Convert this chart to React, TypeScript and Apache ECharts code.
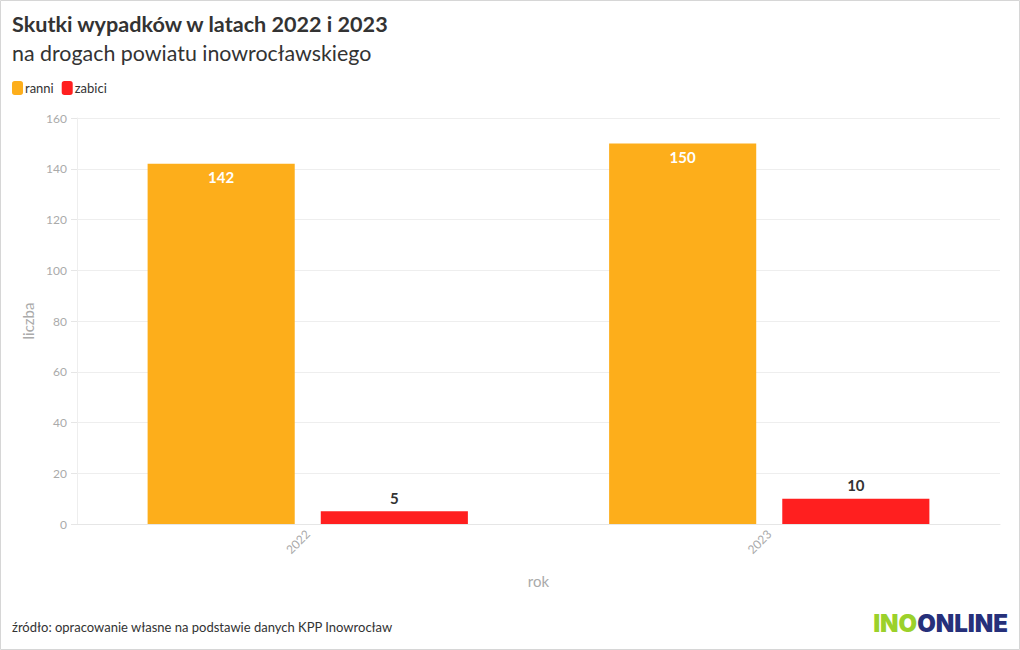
import React, { useEffect, useRef } from "react";
import * as echarts from "echarts";

const categories = ["2022", "2023"];
const ranni = [142, 150];
const zabici = [5, 10];
const yTicks = { min: 0, max: 160, interval: 20 };

const FONT = "Lato, 'Noto Sans', sans-serif";

export default function App() {
  const ref = useRef<HTMLDivElement>(null);
  useEffect(() => {
    if (!ref.current) return;
    const chart = echarts.init(ref.current, undefined, { renderer: "svg" });
    chart.setOption({
      animation: false,
      backgroundColor: "#ffffff",
      textStyle: { fontFamily: FONT },
      title: [
        {
          text: "Skutki wypadków w latach 2022 i 2023",
          left: 7,
          top: 8,
          textStyle: { fontSize: 21.6, fontWeight: "bold", color: "#333333", fontFamily: FONT },
        },
        {
          text: "na drogach powiatu inowrocławskiego",
          left: 7,
          top: 37,
          textStyle: { fontSize: 21.4, fontWeight: "normal", color: "#333333", fontFamily: FONT },
        },
        {
          text: "źródło: opracowanie własne na podstawie danych KPP Inowrocław",
          left: 7,
          top: 615,
          textStyle: { fontSize: 13, fontWeight: "normal", color: "#333333", fontFamily: FONT },
        },
      ],
      legend: {
        left: 7,
        top: 76,
        icon: "roundRect",
        itemWidth: 11,
        itemHeight: 14,
        itemGap: 8,
        textStyle: { fontSize: 13, color: "#333333", padding: [0, 0, 0, -3], fontFamily: FONT },
        data: ["ranni", "zabici"],
      },
      grid: { left: 77, right: 20, top: 118, bottom: 126 },
      xAxis: {
        type: "category",
        data: categories,
        name: "rok",
        nameLocation: "middle",
        nameGap: 49,
        nameTextStyle: { color: "#aaaaaa", fontSize: 15, fontFamily: FONT },
        axisLine: { lineStyle: { color: "#e6e6e6" } },
        axisTick: { alignWithLabel: true, length: 6, lineStyle: { color: "#e6e6e6" } },
        axisLabel: { rotate: 45, color: "#aaaaaa", fontSize: 12, margin: 8, fontFamily: FONT },
      },
      yAxis: {
        type: "value",
        min: yTicks.min,
        max: yTicks.max,
        interval: yTicks.interval,
        name: "liczba",
        nameLocation: "middle",
        nameGap: 42,
        nameTextStyle: { color: "#aaaaaa", fontSize: 15, fontFamily: FONT },
        axisLine: { show: true, lineStyle: { color: "#eeeeee" } },
        axisTick: { show: true, length: 6, lineStyle: { color: "#e6e6e6" } },
        axisLabel: { color: "#aaaaaa", fontSize: 12, margin: 10, fontFamily: FONT },
        splitLine: { lineStyle: { color: "#eeeeee" } },
      },
      series: [
        {
          name: "ranni",
          type: "bar",
          data: ranni,
          barCategoryGap: "30.6%",
          barGap: "17.7%",
          itemStyle: { color: "#FDAE1B" },
          label: {
            show: true,
            position: "insideTop",
            distance: 6,
            color: "#ffffff",
            fontWeight: "bold",
            fontSize: 15,
            fontFamily: FONT,
          },
        },
        {
          name: "zabici",
          type: "bar",
          data: zabici,
          itemStyle: { color: "#FF1F1F" },
          label: {
            show: true,
            position: "top",
            distance: 6,
            color: "#333333",
            fontWeight: "bold",
            fontSize: 15,
            fontFamily: FONT,
          },
        },
      ],
      graphic: [
        {
          type: "rect",
          shape: { x: 0.5, y: 0.5, width: 1019, height: 649 },
          style: { fill: "none", stroke: "#d6d6d6", lineWidth: 1 },
          silent: true,
        },
        {
          type: "text",
          right: 12,
          top: 611,
          style: {
            text: "{a|INO}{b|ONLINE}",
            rich: {
              a: { fontSize: 24, fontWeight: 900, fill: "#9BD12B", fontFamily: "Inter, sans-serif" },
              b: { fontSize: 24, fontWeight: 900, fill: "#26307A", fontFamily: "Inter, sans-serif" },
            },
          },
        },
      ],
    });
    return () => chart.dispose();
  }, []);
  return (
    <div
      ref={ref}
      style={{ position: "fixed", left: 0, top: 0, width: 1020, height: 650 }}
    />
  );
}
